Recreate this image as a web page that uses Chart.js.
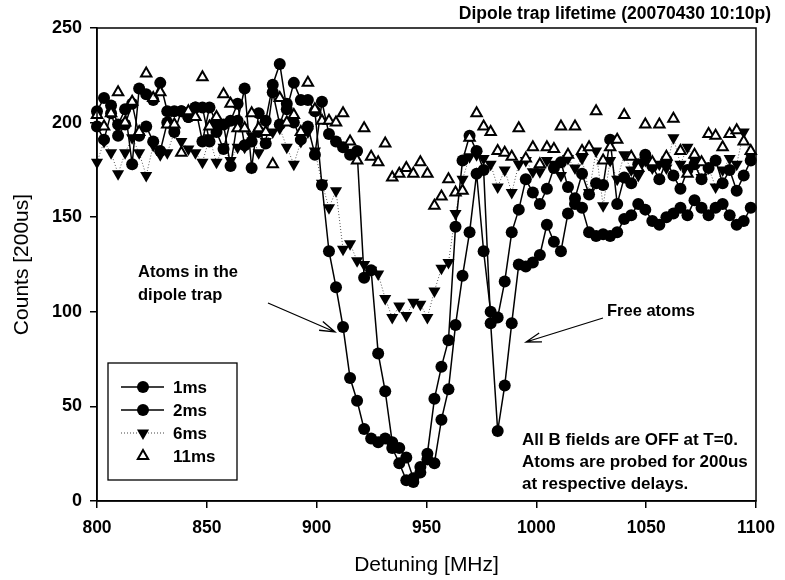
<!DOCTYPE html>
<html>
<head>
<meta charset="utf-8">
<title>Dipole trap lifetime</title>
<script src="https://cdn.jsdelivr.net/npm/chart.js@4.4.1/dist/chart.umd.min.js"></script>
<style>
  html, body { margin: 0; padding: 0; background: #fff; }
  #wrap { width: 785px; height: 580px; position: relative; }
</style>
</head>
<body>
<div id="wrap"><canvas id="c" width="785" height="580"></canvas></div>
<script>
// detuning scan [MHz], 3.2 MHz steps
const detuning = [
  800, 803.2, 806.4, 809.6, 812.8, 816, 819.2, 822.4, 825.6, 828.8,
  832, 835.2, 838.4, 841.6, 844.8, 848, 851.2, 854.4, 857.6, 860.8,
  864, 867.2, 870.4, 873.6, 876.8, 880, 883.2, 886.4, 889.6, 892.8,
  896, 899.2, 902.4, 905.6, 908.8, 912, 915.2, 918.4, 921.6, 924.8,
  928, 931.2, 934.4, 937.6, 940.8, 944, 947.2, 950.4, 953.6, 956.8,
  960, 963.2, 966.4, 969.6, 972.8, 976, 979.2, 982.4, 985.6, 988.8,
  992, 995.2, 998.4, 1001.6, 1004.8, 1008, 1011.2, 1014.4, 1017.6, 1020.8,
  1024, 1027.2, 1030.4, 1033.6, 1036.8, 1040, 1043.2, 1046.4, 1049.6, 1052.8,
  1056, 1059.2, 1062.4, 1065.6, 1068.8, 1072, 1075.2, 1078.4, 1081.6, 1084.8,
  1088, 1091.2, 1094.4, 1097.6
];

// counts [200us] per delay
const counts1ms = [
  206, 213, 209, 199, 207, 178, 218, 215, 212, 221,
  206, 195, 206, 203, 208, 190, 208, 200, 199, 177,
  201, 218, 176, 205, 201, 220, 231, 207, 221, 212,
  212, 206, 167, 132, 113, 92, 65, 53, 38, 33,
  31, 33, 28, 20, 11, 10, 18, 25, 54, 71,
  85, 145, 180, 193, 185, 175, 94, 37, 61, 94,
  125, 124, 126, 130, 146, 137, 132, 152, 157, 155,
  142, 140, 141, 140, 142, 149, 151, 157, 154, 148,
  146, 150, 152, 155, 151, 159, 155, 151, 155, 157,
  151, 146, 148, 155
];
const counts2ms = [
  198, 191, 205, 193, 199, 210, 193, 198, 190, 185,
  200, 206, 206, 203, 208, 208, 190, 195, 186, 201,
  210, 188, 190, 195, 189, 216, 199, 210, 200, 191,
  198, 183, 211, 194, 190, 187, 183, 185, 118, 122,
  78, 58, 31, 28, 23, 12, 15, 22, 20, 43,
  59, 93, 119, 142, 173, 132, 100, 97, 116, 142,
  154, 170, 163, 157, 165, 176, 179, 166, 160, 173,
  162, 168, 167, 191, 157, 171, 168, 178, 183, 177,
  170, 180, 172, 165, 175, 178, 170, 176, 180, 168,
  175, 164, 172, 180
];
const counts6ms = [
  179, 190, 184, 173, 184, 192, 184, 172, 188, 183,
  184, 195, 190, 186, 184, 179, 192, 179, 187, 180,
  187, 187, 193, 184, 190, 195, 197, 187, 178, 190,
  195, 185, 168, 155, 164, 133, 136, 127, 125, 122,
  120, 107, 97, 103, 98, 105, 104, 97, 111, 123,
  126, 152, 170, 182, 183, 181, 178, 166, 175, 163,
  178, 180, 174, 174, 180, 178, 172, 181, 176, 181,
  163, 185, 156, 180, 170, 183, 175, 172, 180, 176,
  178, 176, 192, 178, 187, 180, 171, 176, 166, 175,
  181, 178, 195, 182
];
const counts11ms = [
  204, 198, 205, 216, 200, 211, 195, 226, 213, 216,
  199, 199, 184, 206, 203, 224, 198, 203, 215, 210,
  197, 197, 205, 197, 195, 178, 213, 200, 204, 195,
  221, 207, 201, 201, 200, 205, 190, 180, 197, 182,
  179, 189, 171, 173, 176, 173, 179, 173, 156, 161,
  170, 163, 164, 192, 205, 198, 195, 185, 184, 182,
  197, 181, 187, 178, 187, 186, 198, 183, 198, 185,
  187, 206, 180, 187, 191, 204, 182, 176, 199, 179,
  199, 182, 202, 185, 173, 183, 179, 194, 193, 187,
  194, 196, 190, 185
];

const seriesNames = ['1ms', '2ms', '6ms', '11ms'];

const FONT = '"Liberation Sans", Arial, Helvetica, sans-serif';
Chart.defaults.font.family = FONT;
Chart.defaults.color = '#000';

function pts(ys) { return detuning.map((x, i) => ({ x: x, y: ys[i] })); }

function marker(ctx, kind, x, y) {
  ctx.save();
  ctx.setLineDash([]);
  if (kind === 'circle') {
    ctx.fillStyle = '#000';
    ctx.beginPath(); ctx.arc(x, y, 6, 0, Math.PI * 2); ctx.fill();
  } else if (kind === 'down') {
    const r = 7;
    ctx.fillStyle = '#000';
    ctx.beginPath();
    ctx.moveTo(x - r * 0.866, y - r * 0.5);
    ctx.lineTo(x + r * 0.866, y - r * 0.5);
    ctx.lineTo(x, y + r);
    ctx.closePath(); ctx.fill();
  } else {
    const r = 6;
    ctx.strokeStyle = '#000'; ctx.lineWidth = 2; ctx.fillStyle = '#fff';
    ctx.beginPath();
    ctx.moveTo(x, y - r);
    ctx.lineTo(x + r * 0.866, y + r * 0.5);
    ctx.lineTo(x - r * 0.866, y + r * 0.5);
    ctx.closePath(); ctx.fill(); ctx.stroke();
  }
  ctx.restore();
}

function arrow(ctx, x0, y0, x1, y1) {
  const a = Math.atan2(y1 - y0, x1 - x0);
  const L = 16, w = 0.3;
  ctx.save();
  ctx.strokeStyle = '#000'; ctx.lineWidth = 1.3;
  ctx.beginPath();
  ctx.moveTo(x0, y0); ctx.lineTo(x1, y1);
  ctx.moveTo(x1 - L * Math.cos(a - w), y1 - L * Math.sin(a - w)); ctx.lineTo(x1, y1);
  ctx.lineTo(x1 - L * Math.cos(a + w), y1 - L * Math.sin(a + w));
  ctx.stroke();
  ctx.restore();
}

const decorations = {
  id: 'decorations',
  afterDraw(chart) {
    const ctx = chart.ctx, ca = chart.chartArea;
    ctx.save();
    // frame
    ctx.strokeStyle = '#000'; ctx.lineWidth = 1.5;
    ctx.strokeRect(ca.left, ca.top, ca.right - ca.left, ca.bottom - ca.top);

    ctx.fillStyle = '#000';
    // title
    ctx.font = 'bold 17.5px ' + FONT;
    ctx.textAlign = 'right'; ctx.textBaseline = 'middle';
    ctx.fillText('Dipole trap lifetime (20070430 10:10p)', 771, 14);

    // axis titles
    ctx.font = '21px ' + FONT;
    ctx.textAlign = 'center';
    ctx.fillText('Detuning [MHz]', (ca.left + ca.right) / 2, 565);
    ctx.save();
    ctx.translate(22, (ca.top + ca.bottom) / 2);
    ctx.rotate(-Math.PI / 2);
    ctx.fillText('Counts [200us]', 0, 0);
    ctx.restore();

    // annotations
    ctx.font = 'bold 16.5px ' + FONT;
    ctx.textAlign = 'left';
    ctx.fillText('Atoms in the', 138, 272);
    ctx.fillText('dipole trap', 138, 295);
    ctx.fillText('Free atoms', 607, 311);
    ctx.font = 'bold 17px ' + FONT;
    ctx.fillText('All B fields are OFF at T=0.', 522, 440);
    ctx.fillText('Atoms are probed for 200us', 522, 462);
    ctx.fillText('at respective delays.', 522, 484);
    arrow(ctx, 268, 303, 335, 332);
    arrow(ctx, 603, 318, 526, 342);

    // legend
    ctx.fillStyle = '#fff';
    ctx.fillRect(108, 363, 129, 117);
    ctx.strokeStyle = '#000'; ctx.lineWidth = 1.3;
    ctx.strokeRect(108, 363, 129, 117);
    const rows = [387, 410, 433, 456];
    const kinds = ['circle', 'circle', 'down', 'open'];
    rows.forEach((y, i) => {
      ctx.save();
      if (i < 2) { ctx.strokeStyle = '#000'; ctx.lineWidth = 1.5; ctx.setLineDash([]); }
      else if (i === 2) { ctx.strokeStyle = '#444'; ctx.lineWidth = 1; ctx.setLineDash([1, 2]); }
      if (i < 3) {
        ctx.beginPath(); ctx.moveTo(121, y); ctx.lineTo(164, y); ctx.stroke();
      }
      ctx.restore();
      marker(ctx, kinds[i], 143, y);
      ctx.fillStyle = '#000';
      ctx.font = 'bold 17px ' + FONT;
      ctx.textAlign = 'left'; ctx.textBaseline = 'middle';
      ctx.fillText(seriesNames[i], 173, y + 1);
    });
    ctx.restore();
  }
};

new Chart(document.getElementById('c'), {
  type: 'line',
  data: {
    datasets: [
      {
        label: seriesNames[3], data: pts(counts11ms), order: 0, showLine: false,
        pointStyle: 'triangle', pointRadius: 6, pointBackgroundColor: '#fff',
        pointBorderColor: '#000', pointBorderWidth: 2, clip: false
      },
      {
        label: seriesNames[0], data: pts(counts1ms), order: 1,
        borderColor: '#000', borderWidth: 1.5, tension: 0,
        pointStyle: 'circle', pointRadius: 6, pointBackgroundColor: '#000',
        pointBorderColor: '#000', pointBorderWidth: 0, clip: false
      },
      {
        label: seriesNames[1], data: pts(counts2ms), order: 2,
        borderColor: '#000', borderWidth: 1.5, tension: 0,
        pointStyle: 'circle', pointRadius: 6, pointBackgroundColor: '#000',
        pointBorderColor: '#000', pointBorderWidth: 0, clip: false
      },
      {
        label: seriesNames[2], data: pts(counts6ms), order: 3,
        borderColor: '#555', borderWidth: 1, borderDash: [1, 2], tension: 0,
        pointStyle: 'triangle', rotation: 180, pointRadius: 7,
        pointBackgroundColor: '#000', pointBorderColor: '#000', pointBorderWidth: 0, clip: false
      }
    ]
  },
  options: {
    responsive: false,
    animation: false,
    devicePixelRatio: 1,
    layout: { padding: { top: 28, right: 22, left: 0, bottom: 0 } },
    plugins: { legend: { display: false }, tooltip: { enabled: false } },
    scales: {
      x: {
        type: 'linear', min: 800, max: 1100,
        ticks: { stepSize: 50, color: '#000', font: { size: 17.5, weight: 'bold' }, padding: 10, maxRotation: 0,
                 callback: v => String(v) },
        grid: { drawOnChartArea: false, drawTicks: true, tickLength: 7, color: '#000', lineWidth: 1.5 },
        border: { display: true, color: '#000', width: 1.5 },
        afterFit(scale) { scale.height = 79; }
      },
      y: {
        min: 0, max: 250,
        ticks: { stepSize: 50, color: '#000', font: { size: 18, weight: 'bold' }, padding: 8,
                 callback: v => String(v) },
        grid: { drawOnChartArea: false, drawTicks: true, tickLength: 7, color: '#000', lineWidth: 1.5 },
        border: { display: true, color: '#000', width: 1.5 },
        afterFit(scale) { scale.width = 97; }
      }
    }
  },
  plugins: [decorations]
});
</script>
</body>
</html>
